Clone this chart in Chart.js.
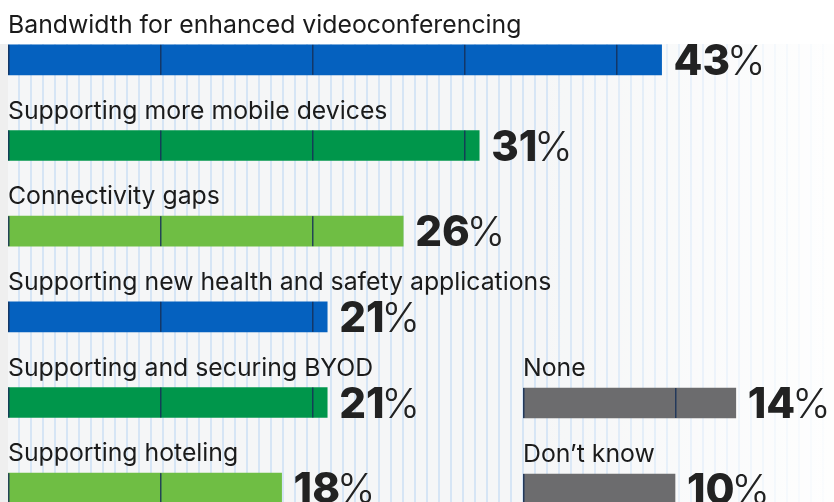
<!DOCTYPE html>
<html>
<head>
<meta charset="utf-8">
<script src="https://cdn.jsdelivr.net/npm/chart.js@4"></script>
<style>
  html, body { margin: 0; padding: 0; width: 834px; height: 502px; overflow: hidden; background: #fff; }
  #edge { position: absolute; left: 0; top: 44px; width: 8px; height: 458px; background: #efefef; }
  #stripes {
    position: absolute; left: 8px; top: 44px; width: 826px; height: 458px;
    background:
      linear-gradient(to right, rgba(255,255,255,0) 0px, rgba(255,255,255,0) 520px, rgba(255,255,255,0.9) 826px),
      repeating-linear-gradient(to right, #f5f6f7 0px, #f5f6f7 10.5px, #d6e5f5 10.5px, #d6e5f5 12px);
    background-size: auto, 12px 100%;
    background-repeat: no-repeat, repeat-x;
  }
  canvas { position: absolute; }
  #leftChart { left: 0; top: 0; }
  #rightChart { left: 515px; top: 340px; }
</style>
</head>
<body>
<div id="edge"></div>
<div id="stripes"></div>
<canvas id="leftChart" width="834" height="531"></canvas>
<canvas id="rightChart" width="319" height="192"></canvas>
<script>
// left column
const leftLabels = [
  "Bandwidth for enhanced videoconferencing",
  "Supporting more mobile devices",
  "Connectivity gaps",
  "Supporting new health and safety applications",
  "Supporting and securing BYOD",
  "Supporting hoteling"
];
const leftValues = [43, 31, 26, 21, 21, 18];
const leftColors = ["#0561bf", "#00964b", "#6fbe44", "#0561bf", "#00964b", "#6fbe44"];

// right column
const rightLabels = ["None", "Don\u2019t know"];
const rightValues = [14, 10];
const rightColors = ["#6c6c6e", "#6c6c6e"];

const PX_PER_PCT = 15.2;
const DIVIDER_STEP = 10;

// labels above bars, dark divider lines inside bars, value at bar end
const barText = {
  id: "barText",
  afterDatasetsDraw(chart) {
    const ctx = chart.ctx;
    const xScale = chart.scales.x;
    const meta = chart.getDatasetMeta(0);
    const values = chart.data.datasets[0].data;
    ctx.save();
    meta.data.forEach(function (bar, i) {
      const top = bar.y - bar.height / 2;
      // dividers
      ctx.fillStyle = "rgba(22, 48, 88, 0.85)";
      for (let t = 0; t < values[i]; t += DIVIDER_STEP) {
        const px = Math.round(xScale.getPixelForValue(t));
        ctx.fillRect(px, top, 1.5, bar.height);
      }
      // category label
      ctx.fillStyle = "#1b1b1b";
      ctx.font = "400 24.8px Inter";
      ctx.textBaseline = "alphabetic";
      ctx.textAlign = "left";
      ctx.fillText(chart.data.labels[i], chart.chartArea.left, top - 12);
      // value
      const vx = bar.x + 12;
      const vy = bar.y + 15;
      ctx.fillStyle = "#222";
      ctx.font = "800 42px Inter";
      const num = String(values[i]);
      ctx.fillText(num, vx, vy);
      const w = ctx.measureText(num).width;
      ctx.font = "300 41px Inter";
      ctx.fillText("%", vx + w - 3, vy);
    });
    ctx.restore();
  }
};

function makeChart(id, labels, values, colors, padTop) {
  const canvas = document.getElementById(id);
  const areaWidth = canvas.width - 8;
  return new Chart(canvas, {
    type: "bar",
    data: {
      labels: labels,
      datasets: [{
        data: values,
        backgroundColor: colors,
        barThickness: 30,
        borderWidth: 0
      }]
    },
    options: {
      indexAxis: "y",
      responsive: false,
      animation: false,
      layout: { padding: { left: 8, right: 0, top: padTop, bottom: 0 } },
      plugins: { legend: { display: false }, tooltip: { enabled: false } },
      scales: {
        x: { display: false, min: 0, max: areaWidth / PX_PER_PCT },
        y: { display: false }
      }
    },
    plugins: [barText]
  });
}

makeChart("leftChart", leftLabels, leftValues, leftColors, 17);
makeChart("rightChart", rightLabels, rightValues, rightColors, 20);
</script>
</body>
</html>
